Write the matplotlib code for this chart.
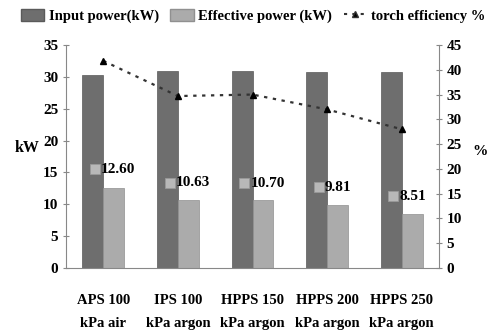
import matplotlib
matplotlib.use("Agg")
import matplotlib.pyplot as plt
import numpy as np
from matplotlib.lines import Line2D
from matplotlib.patches import Patch

categories = ["APS 100\nkPa air", "IPS 100\nkPa argon", "HPPS 150\nkPa argon",
              "HPPS 200\nkPa argon", "HPPS 250\nkPa argon"]
input_power = [30.3, 30.9, 30.9, 30.8, 30.7]
effective_power = [12.60, 10.63, 10.70, 9.81, 8.51]
efficiency = [41.8, 34.7, 35.0, 32.0, 28.0]
label_y = [15.5, 13.4, 13.3, 12.7, 11.3]

plt.rcParams['font.family'] = ['Liberation Serif', 'DejaVu Serif']
plt.rcParams['font.weight'] = 'bold'

fig = plt.figure(figsize=(4.92, 3.31), dpi=100)
ax = fig.add_axes([66/492, 1-268/331, (439-66)/492, (268-45)/331])
x = np.arange(len(categories))
w = 0.28
dark = '#6e6e6e'
light = '#ababab'
ax.bar(x - w/2, input_power, w, color=dark, edgecolor='#5a5a5a', linewidth=0.5)
ax.bar(x + w/2, effective_power, w, color=light, edgecolor='#909090', linewidth=0.5)
ax.set_xlim(-0.5, 4.5)
ax.set_ylim(0, 35)
ax.set_yticks(range(0, 36, 5))
ax.set_xticks(x)
ax.set_xticklabels(categories, fontsize=10.5, fontweight='bold', linespacing=2.0)
ax.tick_params(axis='x', length=0, pad=19)
ax.tick_params(axis='y', labelsize=11, length=4, direction='inout', color='#888888')
for s in ['top', 'right']:
    ax.spines[s].set_visible(False)
ax.spines['left'].set_color('#888888')
ax.spines['bottom'].set_color('#888888')
ax.set_ylabel('kW', fontsize=11.5, fontweight='bold', rotation=0, labelpad=2)
ax.yaxis.set_label_coords(-0.105, 0.5)

for xi, v, ly in zip(x, effective_power, label_y):
    ax.plot(xi - 0.11, ly, marker='s', ms=7, color='#b8b8b8', mec='#999999', mew=0.6)
    ax.text(xi - 0.03, ly, f"{v:.2f}", fontsize=11, fontweight='bold', va='center', ha='left')

ax2 = ax.twinx()
ax2.plot(x, efficiency, linestyle=(0, (1.5, 2.5)), color='#333333', lw=1.6,
         marker='^', ms=5, mfc='black', mec='black')
ax2.set_ylim(0, 45)
ax2.set_yticks(range(0, 46, 5))
ax2.tick_params(axis='y', labelsize=11, length=4, direction='inout', color='#888888')
for s in ['top', 'left', 'bottom']:
    ax2.spines[s].set_visible(False)
ax2.spines['right'].set_color('#888888')
ax2.set_ylabel('%', fontsize=11, fontweight='bold', rotation=0)
ax2.yaxis.set_label_coords(1.11, 0.55)

handles = [Patch(facecolor=dark, edgecolor='#5a5a5a', label='Input power(kW)'),
           Patch(facecolor=light, edgecolor='#909090', label='Effective power (kW)'),
           Line2D([0], [0], linestyle=(0, (1.5, 2.5)), color='#333333', marker='^',
                  ms=4, mfc='black', label='torch efficiency %')]
fig.legend(handles=handles, loc='center', bbox_to_anchor=(0.515, 1-16/331), ncol=3,
           frameon=False, fontsize=10.5, handlelength=1.6, handletextpad=0.3,
           columnspacing=0.8, handleheight=0.9)

fig.savefig('out.png', dpi=100)
